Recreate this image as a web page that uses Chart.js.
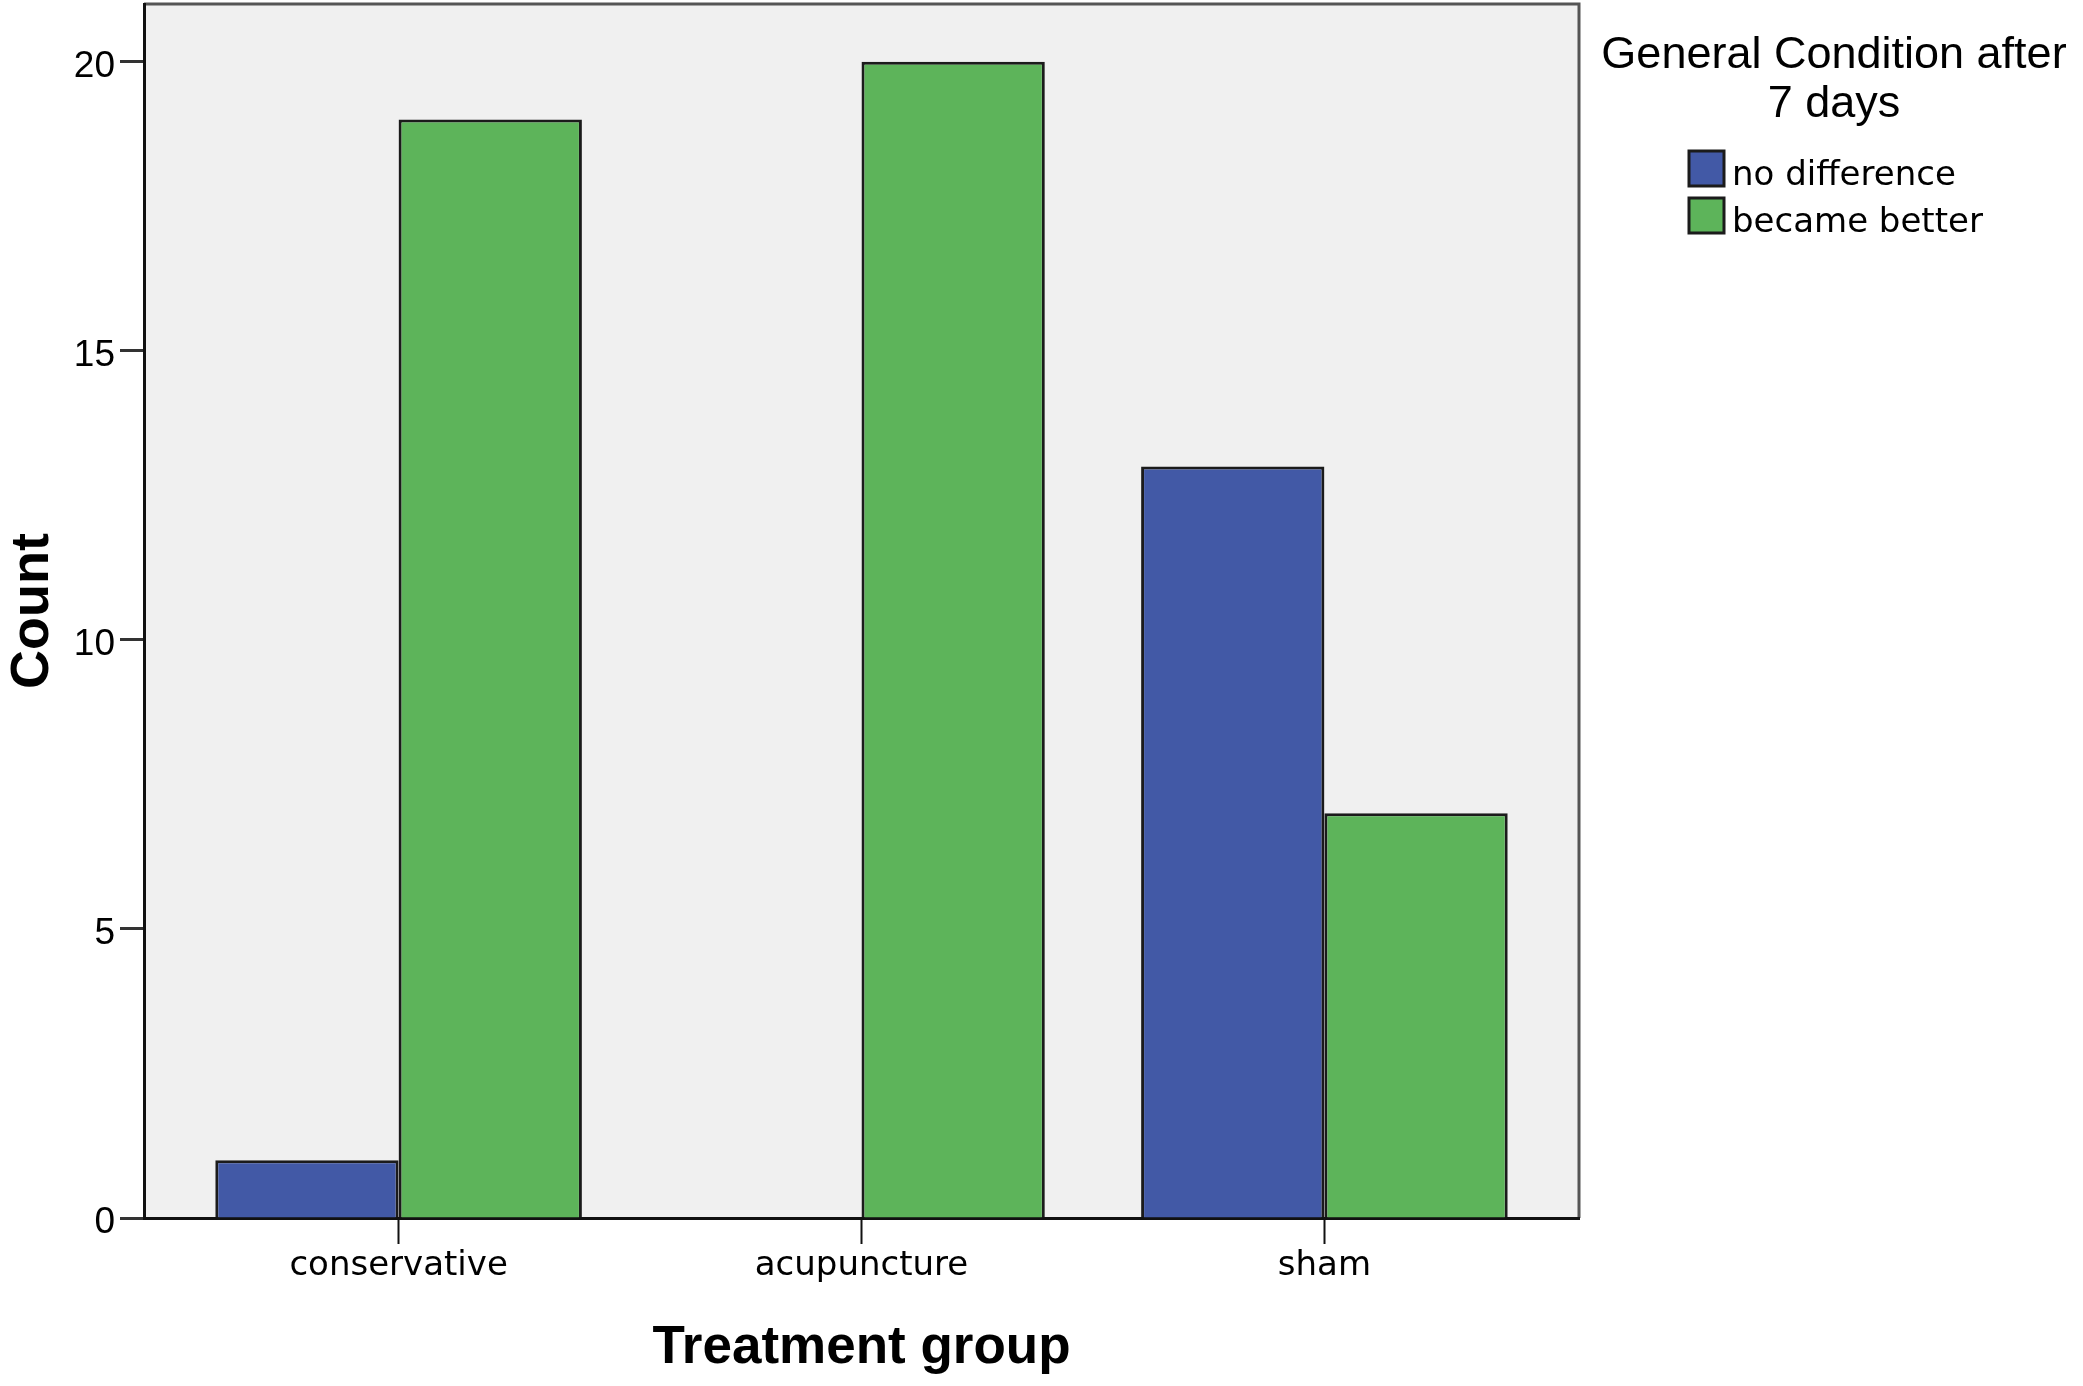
<!DOCTYPE html>
<html>
<head>
<meta charset="utf-8">
<script src="https://cdn.jsdelivr.net/npm/chart.js@4.4.1/dist/chart.umd.min.js"></script>
<style>
  html, body { margin: 0; padding: 0; background: #fff; }
  canvas { display: block; }
</style>
</head>
<body>
<canvas id="barChart" width="2083" height="1386"></canvas>
<script>
// data
var categories = ["conservative", "acupuncture", "sham"];
var noDifference = [1, 0, 13];
var becameBetter = [19, 20, 7];
var seriesNames = ["no difference", "became better"];
var legendTitle = ["General Condition after", "7 days"];
var yTicks = [0, 5, 10, 15, 20];

function points(values) {
    return values.map(function (v, i) { return { x: i, y: v }; });
}

// grey plot panel + top/right frame
var panel = {
    id: 'panel',
    beforeDraw: function (chart) {
        var a = chart.chartArea, c = chart.ctx;
        c.save();
        c.fillStyle = '#f0f0f0';
        c.fillRect(a.left, a.top, a.right - a.left, a.bottom - a.top);
        c.strokeStyle = '#555555';
        c.lineWidth = 3;
        c.beginPath();
        c.moveTo(a.left, a.top);
        c.lineTo(a.right, a.top);
        c.lineTo(a.right, a.bottom);
        c.stroke();
        c.restore();
    }
};

// SPSS style legend on the right
var sideLegend = {
    id: 'sideLegend',
    afterDraw: function (chart) {
        var c = chart.ctx;
        c.save();
        c.fillStyle = '#000';
        c.textBaseline = 'alphabetic';
        c.textAlign = 'center';
        c.font = '45px "Liberation Sans", Arial, sans-serif';
        c.fillText(legendTitle[0], 1834, 68);
        c.fillText(legendTitle[1], 1834, 117);
        c.textAlign = 'left';
        c.font = '34px "DejaVu Sans", sans-serif';
        chart.data.datasets.forEach(function (ds, i) {
            var top = 151 + i * 47;
            c.fillStyle = ds.backgroundColor;
            c.fillRect(1689, top, 35, 35);
            c.strokeStyle = '#1b1b1b';
            c.lineWidth = 3;
            c.strokeRect(1689, top, 35, 35);
            c.fillStyle = '#000';
            c.fillText(ds.label, 1732, top + 34);
        });
        c.restore();
    }
};

var ctx = document.getElementById("barChart").getContext('2d');
var myBarChart = new Chart(ctx, {
    type: 'bar',
    data: {
        datasets: [{
            label: seriesNames[0],
            data: points(noDifference),
            backgroundColor: '#4259a6',
            borderColor: '#1b1b1b',
            borderWidth: 3
        }, {
            label: seriesNames[1],
            data: points(becameBetter),
            backgroundColor: '#5db45a',
            borderColor: '#1b1b1b',
            borderWidth: 3
        }]
    },
    options: {
        responsive: false,
        animation: false,
        devicePixelRatio: 1,
        events: [],
        categoryPercentage: 0.792,
        barPercentage: 1,
        layout: { padding: { top: 4, right: 504, left: 0, bottom: 0 } },
        plugins: {
            legend: { display: false },
            tooltip: { enabled: false }
        },
        scales: {
            x: {
                type: 'linear',
                min: -0.55,
                max: 2.55,
                offset: false,
                afterBuildTicks: function (scale) {
                    scale.ticks = categories.map(function (c, i) { return { value: i }; });
                },
                afterFit: function (scale) {
                    scale.height = 168;
                    scale.paddingLeft = 0;
                    scale.paddingRight = 0;
                },
                grid: {
                    offset: false,
                    drawOnChartArea: false,
                    drawTicks: true,
                    tickLength: 26,
                    tickWidth: 2,
                    tickColor: '#111'
                },
                border: { display: true, color: '#111', width: 3 },
                ticks: {
                    color: '#000',
                    padding: 2,
                    maxRotation: 0,
                    font: { family: '"DejaVu Sans", sans-serif', size: 34 },
                    callback: function (value) { return categories[value]; }
                },
                title: {
                    display: true,
                    text: 'Treatment group',
                    color: '#000',
                    padding: { top: 0, bottom: 6 },
                    font: { family: '"Liberation Sans", Arial, sans-serif', size: 53, weight: 'bold' }
                }
            },
            y: {
                min: 0,
                max: 21,
                afterBuildTicks: function (scale) {
                    scale.ticks = yTicks.map(function (v) { return { value: v }; });
                },
                afterFit: function (scale) {
                    scale.width = 144;
                    scale.paddingTop = 0;
                    scale.paddingBottom = 0;
                },
                grid: {
                    drawOnChartArea: false,
                    drawTicks: true,
                    tickLength: 24,
                    tickWidth: 3,
                    tickColor: '#333'
                },
                border: { display: true, color: '#111', width: 3 },
                ticks: {
                    color: '#000',
                    padding: 5,
                    labelOffset: 5,
                    font: { family: '"Liberation Sans", Arial, sans-serif', size: 37 }
                },
                title: {
                    display: true,
                    text: 'Count',
                    color: '#000',
                    padding: { top: 1, bottom: 0 },
                    font: { family: '"Liberation Sans", Arial, sans-serif', size: 54, weight: 'bold' }
                }
            }
        }
    },
    plugins: [panel, sideLegend]
});
</script>
</body>
</html>
